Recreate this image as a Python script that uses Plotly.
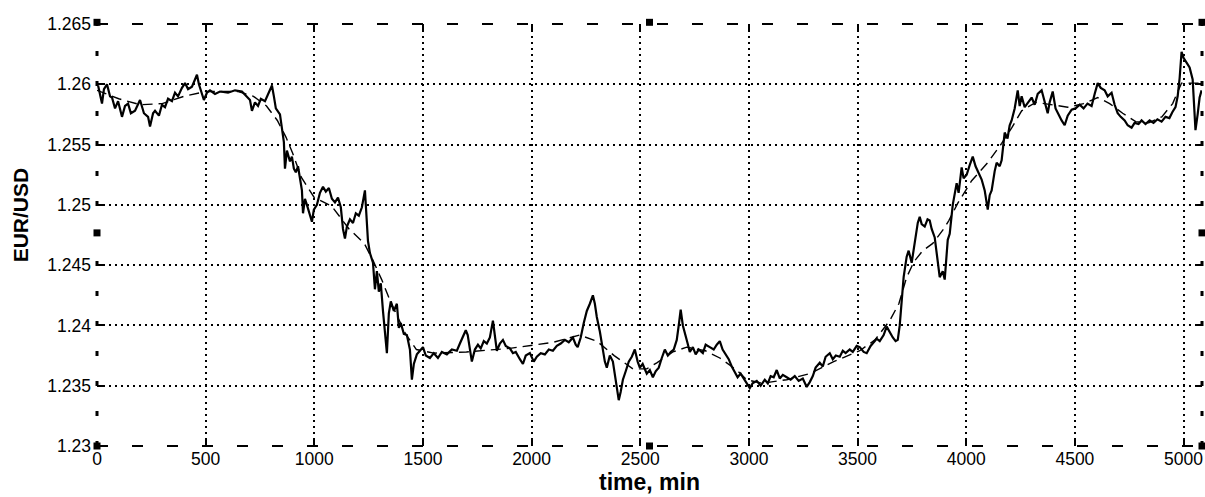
import plotly.graph_objects as go

# ---- data ----
price_x = [5, 23, 32, 46, 60, 69, 83, 97, 115, 129, 143, 156, 175, 198, 216, 235, 244, 258, 267, 285,
           299, 313, 327, 345, 359, 373, 391, 405, 419, 437, 451, 460, 469, 483, 492, 506, 520, 543, 566, 603,
           635, 667, 685, 704, 713, 727, 741, 754, 773, 787, 805, 814, 823, 842, 851, 860, 865, 874, 888, 897,
           906, 915, 925, 934, 943, 948, 957, 966, 980, 989, 998, 1012, 1026, 1040, 1053, 1067, 1081, 1095, 1109, 1122,
           1132, 1141, 1150, 1164, 1178, 1191, 1205, 1219, 1233, 1242, 1247, 1256, 1270, 1279, 1288, 1297, 1306, 1316, 1325, 1334,
           1343, 1352, 1366, 1380, 1389, 1398, 1412, 1426, 1440, 1449, 1458, 1472, 1486, 1500, 1513, 1532, 1550, 1569, 1587, 1610,
           1633, 1656, 1670, 1683, 1697, 1706, 1716, 1725, 1739, 1753, 1766, 1780, 1794, 1808, 1822, 1831, 1840, 1854, 1868, 1881,
           1900, 1914, 1927, 1946, 1960, 1973, 1992, 2010, 2024, 2042, 2061, 2079, 2098, 2116, 2134, 2153, 2171, 2190, 2203, 2212,
           2226, 2240, 2254, 2268, 2282, 2291, 2300, 2314, 2328, 2337, 2346, 2360, 2374, 2383, 2392, 2401, 2410, 2420, 2433, 2447,
           2461, 2475, 2488, 2498, 2511, 2530, 2544, 2558, 2571, 2585, 2599, 2613, 2627, 2640, 2654, 2668, 2677, 2686, 2696, 2705,
           2718, 2728, 2742, 2755, 2769, 2788, 2801, 2820, 2838, 2852, 2866, 2879, 2893, 2907, 2921, 2934, 2948, 2962, 2976, 2990,
           3004, 3017, 3036, 3054, 3073, 3087, 3100, 3114, 3128, 3142, 3156, 3174, 3192, 3211, 3229, 3248, 3266, 3280, 3294, 3307,
           3326, 3340, 3353, 3372, 3386, 3400, 3418, 3432, 3445, 3464, 3478, 3496, 3510, 3528, 3542, 3560, 3574, 3588, 3602, 3620,
           3634, 3648, 3662, 3675, 3685, 3694, 3703, 3712, 3726, 3735, 3749, 3763, 3777, 3786, 3795, 3809, 3822, 3832, 3841, 3855,
           3864, 3873, 3878, 3892, 3901, 3915, 3924, 3938, 3947, 3956, 3965, 3979, 3988, 4002, 4016, 4030, 4043, 4057, 4071, 4085,
           4099, 4108, 4117, 4131, 4140, 4154, 4163, 4177, 4190, 4200, 4209, 4223, 4237, 4246, 4255, 4269, 4283, 4301, 4315, 4329,
           4347, 4361, 4375, 4384, 4398, 4411, 4421, 4439, 4453, 4467, 4485, 4503, 4522, 4540, 4558, 4577, 4591, 4605, 4619, 4637,
           4651, 4669, 4683, 4697, 4711, 4729, 4743, 4761, 4775, 4793, 4807, 4825, 4844, 4862, 4880, 4899, 4917, 4935, 4949, 4963,
           4973, 4982, 4991, 5000, 5014, 5028, 5042, 5051, 5055, 5065, 5074, 5083]
price_y = [1.2599, 1.2584, 1.2596, 1.2600, 1.2590, 1.2589, 1.2580, 1.2586, 1.2573, 1.2582, 1.2584, 1.2576, 1.2578, 1.2587, 1.2576, 1.2573, 1.2565, 1.2576, 1.2578, 1.2574,
           1.2583, 1.2581, 1.2588, 1.2586, 1.2593, 1.2590, 1.2597, 1.2601, 1.2596, 1.2598, 1.2604, 1.2608, 1.2600, 1.2593, 1.2587, 1.2593, 1.2595, 1.2592, 1.2594, 1.2593,
           1.2595, 1.2594, 1.2591, 1.2587, 1.2578, 1.2585, 1.2582, 1.2588, 1.2586, 1.2592, 1.2599, 1.2590, 1.2580, 1.2575, 1.2565, 1.2552, 1.2530, 1.2545, 1.2536, 1.2540,
           1.2530, 1.2527, 1.2532, 1.2520, 1.2512, 1.2493, 1.2505, 1.2500, 1.2491, 1.2486, 1.2496, 1.2500, 1.2510, 1.2515, 1.2511, 1.2514, 1.2505, 1.2502, 1.2506, 1.2498,
           1.2480, 1.2472, 1.2482, 1.2488, 1.2485, 1.2493, 1.2491, 1.2498, 1.2512, 1.2490, 1.2470, 1.2460, 1.2452, 1.2430, 1.2445, 1.2428, 1.2435, 1.2412, 1.2395, 1.2377,
           1.2410, 1.2420, 1.2412, 1.2418, 1.2398, 1.2402, 1.2393, 1.2392, 1.2380, 1.2355, 1.2368, 1.2376, 1.2379, 1.2382, 1.2375, 1.2373, 1.2377, 1.2373, 1.2378, 1.2376,
           1.2380, 1.2379, 1.2385, 1.2390, 1.2396, 1.2392, 1.2378, 1.2370, 1.2380, 1.2384, 1.2381, 1.2387, 1.2385, 1.2390, 1.2404, 1.2392, 1.2379, 1.2385, 1.2388, 1.2383,
           1.2381, 1.2377, 1.2378, 1.2372, 1.2368, 1.2375, 1.2377, 1.2370, 1.2374, 1.2377, 1.2376, 1.2380, 1.2379, 1.2383, 1.2385, 1.2388, 1.2386, 1.2390, 1.2384, 1.2382,
           1.2390, 1.2402, 1.2412, 1.2418, 1.2425, 1.2418, 1.2407, 1.2395, 1.2380, 1.2370, 1.2365, 1.2375, 1.2370, 1.2360, 1.2350, 1.2338, 1.2345, 1.2355, 1.2362, 1.2370,
           1.2374, 1.2380, 1.2370, 1.2365, 1.2368, 1.2360, 1.2363, 1.2357, 1.2362, 1.2365, 1.2373, 1.2380, 1.2375, 1.2378, 1.2380, 1.2388, 1.2400, 1.2413, 1.2400, 1.2393,
           1.2385, 1.2378, 1.2382, 1.2376, 1.2380, 1.2377, 1.2384, 1.2382, 1.2380, 1.2384, 1.2387, 1.2380, 1.2376, 1.2372, 1.2366, 1.2362, 1.2357, 1.2360, 1.2356, 1.2351,
           1.2348, 1.2352, 1.2354, 1.2350, 1.2355, 1.2352, 1.2358, 1.2357, 1.2363, 1.2356, 1.2359, 1.2357, 1.2355, 1.2358, 1.2354, 1.2356, 1.2349, 1.2353, 1.2358, 1.2365,
           1.2369, 1.2366, 1.2374, 1.2377, 1.2372, 1.2375, 1.2374, 1.2379, 1.2377, 1.2380, 1.2378, 1.2383, 1.2382, 1.2378, 1.2377, 1.2383, 1.2386, 1.2389, 1.2387, 1.2392,
           1.2399, 1.2394, 1.2390, 1.2387, 1.2388, 1.2400, 1.2420, 1.2440, 1.2457, 1.2462, 1.2452, 1.2470, 1.2485, 1.2490, 1.2484, 1.2482, 1.2488, 1.2487, 1.2480, 1.2473,
           1.2460, 1.2450, 1.2440, 1.2445, 1.2438, 1.2471, 1.2476, 1.2500, 1.2510, 1.2518, 1.2510, 1.2531, 1.2522, 1.2525, 1.2533, 1.2540, 1.2532, 1.2527, 1.2521, 1.2512,
           1.2496, 1.2508, 1.2512, 1.2528, 1.2535, 1.2532, 1.2537, 1.2560, 1.2555, 1.2566, 1.2570, 1.2580, 1.2595, 1.2582, 1.2590, 1.2581, 1.2585, 1.2589, 1.2583, 1.2592,
           1.2595, 1.2585, 1.2576, 1.2585, 1.2594, 1.2580, 1.2576, 1.2570, 1.2566, 1.2574, 1.2579, 1.2580, 1.2583, 1.2580, 1.2584, 1.2582, 1.2592, 1.2601, 1.2597, 1.2595,
           1.2590, 1.2593, 1.2583, 1.2576, 1.2573, 1.2570, 1.2566, 1.2564, 1.2568, 1.2567, 1.2570, 1.2567, 1.2570, 1.2568, 1.2571, 1.2569, 1.2573, 1.2572, 1.2577, 1.2581,
           1.2590, 1.2605, 1.2627, 1.2622, 1.2618, 1.2614, 1.2604, 1.2580, 1.2562, 1.2575, 1.2589, 1.2595]

trend_x = [0, 100, 200, 300, 400, 500, 650, 720, 780, 830, 870, 900, 940, 1000, 1080, 1160, 1230, 1270, 1310, 1350,
           1420, 1470, 1550, 1700, 1900, 2100, 2220, 2300, 2380, 2466, 2530, 2576, 2650, 2714, 2800, 2866, 2944, 2990, 3060, 3174,
           3280, 3390, 3510, 3580, 3648, 3690, 3726, 3760, 3800, 3846, 3892, 3920, 3960, 4025, 4099, 4163, 4210, 4255, 4320, 4400,
           4467, 4540, 4605, 4660, 4720, 4780, 4840, 4900, 4950, 4991, 5083]
trend_y = [1.2595, 1.2588, 1.2583, 1.2584, 1.2590, 1.2594, 1.2594, 1.2590, 1.2582, 1.2570, 1.2556, 1.2543, 1.2523, 1.2506, 1.2499, 1.2480, 1.2468, 1.2454, 1.2438, 1.2420,
           1.2393, 1.2380, 1.2377, 1.2378, 1.2381, 1.2386, 1.2392, 1.2387, 1.2375, 1.2364, 1.2364, 1.2369, 1.2378, 1.2382, 1.2379, 1.2373, 1.2363, 1.2355, 1.2352, 1.2355,
           1.2360, 1.2370, 1.2379, 1.2388, 1.2404, 1.2418, 1.2440, 1.2453, 1.2462, 1.2468, 1.2479, 1.2487, 1.2501, 1.2520, 1.2535, 1.2551, 1.2564, 1.2578, 1.2585, 1.2583,
           1.2581, 1.2584, 1.2589, 1.2584, 1.2576, 1.2569, 1.2568, 1.2573, 1.2584, 1.2601, 1.2601]

x_ticks = [0, 500, 1000, 1500, 2000, 2500, 3000, 3500, 4000, 4500, 5000]
y_ticks = [1.23, 1.235, 1.24, 1.245, 1.25, 1.255, 1.26, 1.265]
y_tick_text = ["1.23", "1.235", "1.24", "1.245", "1.25", "1.255", "1.26", "1.265"]
x_title = "time, min"
y_title = "EUR/USD"

FONT = "Liberation Sans, Arial, sans-serif"

fig = go.Figure()
fig.add_trace(go.Scatter(x=trend_x, y=trend_y, mode="lines",
                         line=dict(color="black", width=1.4, dash="10px,6px"), showlegend=False))
fig.add_trace(go.Scatter(x=price_x, y=price_y, mode="lines",
                         line=dict(color="black", width=2.2), showlegend=False))

axis_common = dict(showgrid=True, gridcolor="black", gridwidth=2.2, griddash="2px,4px",
                   zeroline=False, showline=False, ticks="inside", ticklen=6, tickwidth=2,
                   tickcolor="black", mirror="ticks",
                   tickfont=dict(family=FONT, size=17.5, color="black"))

fig.update_xaxes(range=[0, 5085], tickmode="array", tickvals=x_ticks, **axis_common)
fig.update_yaxes(range=[1.23, 1.265], tickmode="array", tickvals=y_ticks, ticktext=y_tick_text,
                 ticklabelstandoff=5, **axis_common)

shapes = []
# dashed frame
border = dict(type="line", xref="paper", yref="paper", line=dict(color="black", width=2, dash="11px,24px"))
shapes.append(dict(border, x0=0, x1=1, y0=1, y1=1))
shapes.append(dict(border, x0=0, x1=1, y0=0, y1=0))
side = dict(type="line", xref="paper", yref="paper", line=dict(color="black", width=3, dash="5px,25px"))
shapes.append(dict(side, x0=0, x1=0, y0=0, y1=1))
shapes.append(dict(side, x0=1, x1=1, y0=0, y1=1))
# selection handles
hw = 3.5 / 1105
hh = 3.5 / 422
for hx, hy in [(0, 0), (0.5, 0), (1, 0), (0, 0.505), (1, 0.505), (0, 1.004), (0.5, 1.004), (1, 1.004)]:
    shapes.append(dict(type="rect", xref="paper", yref="paper",
                       x0=hx - hw, x1=hx + hw, y0=hy - hh, y1=hy + hh,
                       fillcolor="black", line=dict(width=0)))

fig.update_layout(
    width=1205, height=497,
    margin=dict(l=97, r=3, t=24, b=51),
    paper_bgcolor="white", plot_bgcolor="white",
    shapes=shapes,
    annotations=[
        dict(text=x_title, xref="paper", yref="paper", x=0.5, y=-0.086, xanchor="center", yanchor="middle",
             showarrow=False, font=dict(family=FONT, size=23, color="black", weight="bold")),
        dict(text=y_title, xref="paper", yref="paper", x=-0.0695, y=0.547, xanchor="center", yanchor="middle",
             textangle=-90, showarrow=False, font=dict(family=FONT, size=21, color="black", weight="bold")),
    ],
)

fig.write_html("out.html", config={"displayModeBar": False},
               post_script="document.body.style.margin='0px';document.body.style.overflow='hidden';")
